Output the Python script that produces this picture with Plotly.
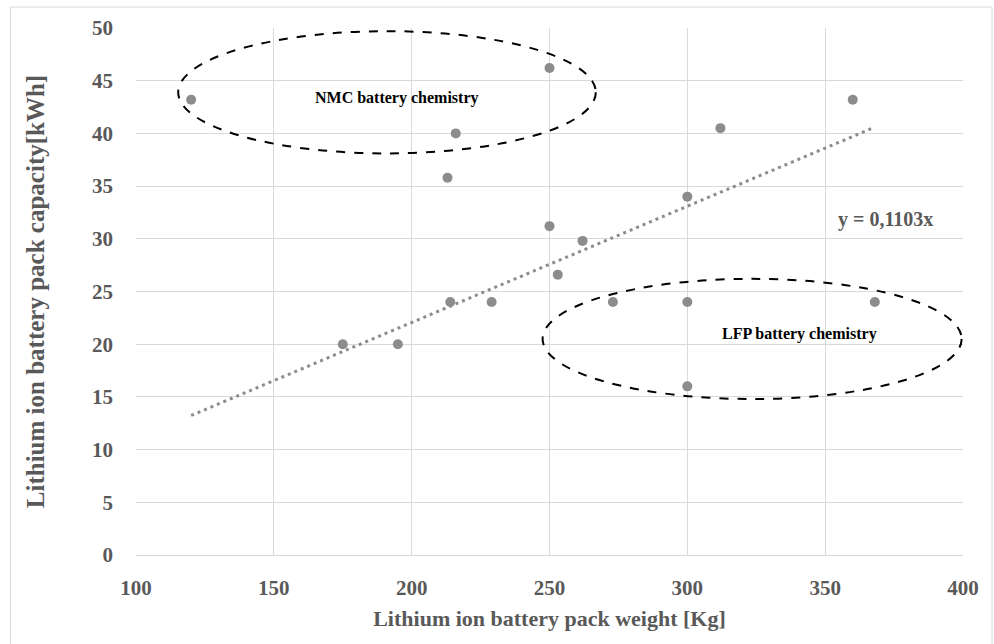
import plotly.graph_objects as go

# Battery pack weight [kg] and capacity [kWh]
weight_kg = [120, 175, 195, 213, 214, 216, 229, 250, 250, 253, 262, 273, 300, 300, 300, 312, 360, 368]
capacity_kwh = [43.2, 20.0, 20.0, 35.8, 24.0, 40.0, 24.0, 46.2, 31.2, 26.6, 29.8, 24.0, 34.0, 24.0, 16.0, 40.5, 43.2, 24.0]

# Linear trend through the origin
slope = 0.1103
trend_x = [min(weight_kg), max(weight_kg)]
trend_y = [slope * v for v in trend_x]

x_ticks = [100, 150, 200, 250, 300, 350, 400]
y_ticks = [0, 5, 10, 15, 20, 25, 30, 35, 40, 45, 50]

# Chemistry groups outlined by ellipses: (x0, x1, y0, y1, label, label_x, label_y)
groups = [
    (115.3, 266.8, 38.1, 49.7, "NMC battery chemistry", 194.5, 43.4),
    (247.5, 399.5, 14.8, 26.2, "LFP battery chemistry", 340.8, 21.0),
]

grey = "#8c8c8c"
text_grey = "#595959"
serif = "Liberation Serif"

fig = go.Figure()
fig.add_trace(go.Scatter(
    x=trend_x, y=trend_y, mode="lines",
    line=dict(color=grey, width=3, dash="3px,4px"),
    showlegend=False, hoverinfo="skip",
))
fig.add_trace(go.Scatter(
    x=weight_kg, y=capacity_kwh, mode="markers",
    marker=dict(color=grey, size=10),
    showlegend=False,
))

for x0, x1, y0, y1, label, lx, ly in groups:
    fig.add_shape(type="circle", xref="x", yref="y", x0=x0, x1=x1, y0=y0, y1=y1,
                  line=dict(color="black", width=2, dash="dash"))
    fig.add_annotation(x=lx, y=ly, text="<b>" + label + "</b>", showarrow=False,
                       font=dict(family=serif, size=16, color="black"))

fig.add_annotation(x=372, y=31.8, text="<b>y = 0,1103x</b>", showarrow=False,
                   font=dict(family=serif, size=20, color=text_grey))

# Thin frame around the whole chart
fig.add_shape(type="rect", xref="paper", yref="paper",
              x0=-0.1518, x1=1.0351, y0=-0.18, y1=1.0398,
              line=dict(color="#d9d9d9", width=1), layer="below")

fig.update_layout(
    width=994, height=644,
    margin=dict(l=136, r=31, t=28, b=89),
    paper_bgcolor="white", plot_bgcolor="white",
    font=dict(family=serif, color=text_grey),
)
fig.update_xaxes(
    range=[100, 400], tickvals=x_ticks,
    ticktext=["<b>%d</b>" % v for v in x_ticks],
    tickfont=dict(size=21, color=text_grey), ticklabelstandoff=14,
    showgrid=True, gridcolor="#d9d9d9", gridwidth=1,
    showline=True, linecolor="#d9d9d9", linewidth=1, mirror=False, zeroline=False,
    title=dict(text="<b>Lithium ion battery pack weight [Kg]</b>",
               font=dict(size=22, color=text_grey), standoff=11),
)
fig.update_yaxes(
    range=[0, 50], tickvals=y_ticks,
    ticktext=["<b>%d</b>" % v for v in y_ticks],
    tickfont=dict(size=21, color=text_grey), ticklabelstandoff=22,
    showgrid=True, gridcolor="#d9d9d9", gridwidth=1,
    showline=False, zeroline=False,
    title=dict(text="<b>Lithium ion battery pack capacity[kWh]</b>",
               font=dict(size=25, color=text_grey), standoff=40),
)

fig.write_html("out.html")
